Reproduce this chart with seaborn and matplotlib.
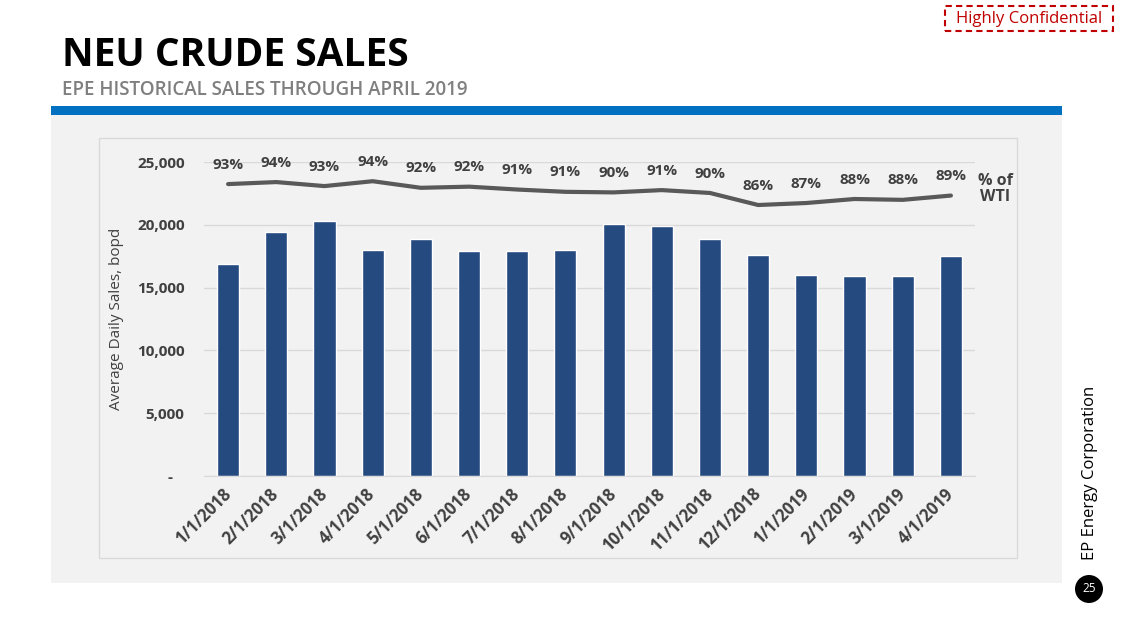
import numpy as np
import pandas as pd
import matplotlib
matplotlib.use('Agg')
import matplotlib.pyplot as plt
from matplotlib.patches import Rectangle, Ellipse
from matplotlib.ticker import FuncFormatter, FixedLocator
import seaborn as sns

# data
months = ['1/1/2018', '2/1/2018', '3/1/2018', '4/1/2018', '5/1/2018', '6/1/2018',
          '7/1/2018', '8/1/2018', '9/1/2018', '10/1/2018', '11/1/2018', '12/1/2018',
          '1/1/2019', '2/1/2019', '3/1/2019', '4/1/2019']
sales_bopd = [16900, 19400, 20300, 18000, 18900, 17900, 17900, 18000,
              20100, 19900, 18900, 17600, 16000, 15900, 15900, 17500]
pct_of_wti = [93.3, 94.0, 92.6, 94.3, 92.0, 92.4, 91.4, 90.6,
              90.4, 91.2, 90.2, 86.0, 86.7, 88.1, 87.8, 89.3]

df = pd.DataFrame({'month': months, 'sales': sales_bopd, 'pct': pct_of_wti})

sns.set_style('white')
plt.rcParams['font.family'] = ['Open Sans', 'DejaVu Sans']

W, H = 1128, 635
fig = plt.figure(figsize=(W / 100, H / 100), dpi=100)
fig.patch.set_facecolor('white')


def px(x, y, w, h):
    # pixel box (top-left origin) -> figure fraction
    return (x / W, 1 - (y + h) / H, w / W, h / H)


# slide decorations
x0, y0, w0, h0 = px(51, 106, 1011, 9)
fig.patches.append(Rectangle((x0, y0), w0, h0, transform=fig.transFigure,
                             facecolor='#0070C0', edgecolor='none', zorder=0))
x0, y0, w0, h0 = px(51, 115, 1011, 468)
fig.patches.append(Rectangle((x0, y0), w0, h0, transform=fig.transFigure,
                             facecolor='#F2F2F2', edgecolor='none', zorder=0))
x0, y0, w0, h0 = px(99, 138, 918, 420)
fig.patches.append(Rectangle((x0, y0), w0, h0, transform=fig.transFigure,
                             facecolor='#F2F2F2', edgecolor='#D9D9D9', lw=1, zorder=0))

fig.text(62 / W, 1 - 55 / H, 'NEU CRUDE SALES', fontsize=28, fontweight='bold',
         color='black', va='center', ha='left')
fig.text(62 / W, 1 - 90 / H, 'EPE HISTORICAL SALES THROUGH APRIL 2019', fontsize=13.5,
         fontweight='semibold', color='#7F7F7F', va='center', ha='left')

fig.text(1029 / W, 1 - 19 / H, 'Highly Confidential', fontsize=12, color='#C00000',
         ha='center', va='center')
x0, y0, w0, h0 = px(945, 6, 168, 25)
fig.patches.append(Rectangle((x0, y0), w0, h0, transform=fig.transFigure,
                             facecolor='none', edgecolor='#C00000', lw=1.5,
                             linestyle=(0, (3, 2))))

fig.text(1090 / W, 1 - 473 / H, 'EP Energy Corporation', fontsize=12, color='black',
         rotation=90, ha='center', va='center')
fig.patches.append(Ellipse((1089 / W, 1 - 589 / H), 28 / W, 28 / H,
                           transform=fig.transFigure, facecolor='black', edgecolor='none'))
fig.text(1089 / W, 1 - 589 / H, '25', fontsize=8.5, color='white', ha='center', va='center')

# chart
ax = fig.add_axes(px(204, 162, 771, 314))
ax.set_zorder(2)
ax.set_facecolor('none')
sns.barplot(data=df, x='month', y='sales', color='#254A80', width=0.46,
            saturation=1, ax=ax, zorder=3)
ax.set_xlim(-0.5, len(months) - 0.5)
ax.set_ylim(0, 25000)
ax.set_yticks(np.arange(0, 25001, 5000))
ax.yaxis.set_major_formatter(FuncFormatter(lambda v, p: '-   ' if v == 0 else f'{v:,.0f}'))
ax.grid(axis='y', color='#D9D9D9', lw=1, zorder=0)
for s in ['top', 'right', 'left']:
    ax.spines[s].set_visible(False)
ax.spines['bottom'].set_color('#D9D9D9')
ax.spines['bottom'].set_zorder(4)
ax.tick_params(axis='y', length=0, pad=14, labelsize=11, labelcolor='#404040')
for lab in ax.get_yticklabels():
    lab.set_fontweight('bold')
ax.xaxis.set_minor_locator(FixedLocator(np.arange(-0.5, len(months), 1)))
ax.tick_params(axis='x', which='minor', length=5, color='#D9D9D9', width=1)
ax.tick_params(axis='x', which='major', length=0, pad=11, labelsize=12, labelcolor='#404040')
plt.setp(ax.get_xticklabels(), rotation=45, ha='right', va='center',
         rotation_mode='anchor', fontweight='bold')
ax.set_xlabel('')
ax.set_ylabel('Average Daily Sales, bopd', fontsize=11, color='#404040', labelpad=9)

ax2 = ax.twinx()
ax2.set_zorder(3)
ax2.set_facecolor('none')
sns.lineplot(x=np.arange(len(months)), y=df['pct'] / 100, ax=ax2, color='#595959',
             lw=3, zorder=5)
ax2.set_ylim(-0.085, 1.01)
ax2.axis('off')
for i, v in enumerate(pct_of_wti):
    ax2.annotate(f'{v:.0f}%', (i, v / 100), xytext=(0, 14), textcoords='offset points',
                 ha='center', va='center', fontsize=11, fontweight='bold',
                 color='#404040')
fig.text(995 / W, 1 - 189 / H, '% of\nWTI', fontsize=11.5, fontweight='bold',
         color='#404040', ha='center', va='center', linespacing=0.95)

fig.savefig('out.png', dpi=100)
